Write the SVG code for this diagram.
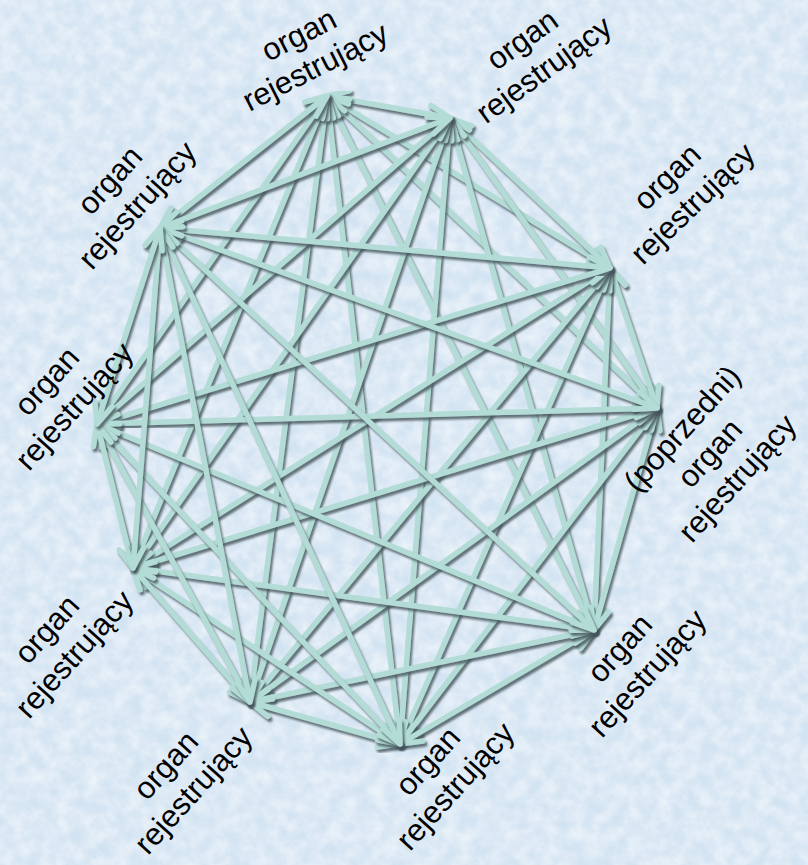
<svg xmlns="http://www.w3.org/2000/svg" width="808" height="865" viewBox="0 0 808 865">
<defs>
<style>
.e{stroke:#b3dcd6;stroke-width:5.5;fill:none;marker-start:url(#ah);marker-end:url(#ah);filter:url(#sh)}
.t{font-family:"Liberation Sans",Arial,sans-serif;font-size:31px;fill:#000;text-anchor:middle}
</style>
<filter id="sh" x="-20%" y="-20%" width="140%" height="140%">
<feDropShadow dx="2" dy="3" stdDeviation="1.2" flood-color="#45525a" flood-opacity="0.8"/>
</filter>
<filter id="tex" x="0" y="0" width="100%" height="100%">
<feTurbulence type="fractalNoise" baseFrequency="0.07" numOctaves="4" seed="7"/>
<feColorMatrix type="matrix" values="0 0 0 0 1  0 0 0 0 1  0 0 0 0 1  0.9 0 0 0 -0.22"/>
</filter>
<marker id="ah" markerUnits="userSpaceOnUse" viewBox="-26 -14 30 28" refX="0" refY="0" markerWidth="30" markerHeight="28" orient="auto-start-reverse" overflow="visible">
<path d="M-21,-9 L0,0 L-21,9" fill="none" stroke="#b3dcd6" stroke-width="5.5" stroke-linecap="round" stroke-linejoin="round"/>
</marker>
</defs>
<rect width="808" height="865" fill="#d2e3f2"/>
<rect width="808" height="865" filter="url(#tex)"/>
<g id="connectors">
<line class="e" x1="327" y1="96" x2="450" y2="118"/>
<line class="e" x1="327" y1="96" x2="610" y2="268"/>
<line class="e" x1="327" y1="96" x2="657" y2="408"/>
<line class="e" x1="327" y1="96" x2="594" y2="630"/>
<line class="e" x1="327" y1="96" x2="400" y2="744"/>
<line class="e" x1="327" y1="96" x2="250" y2="702"/>
<line class="e" x1="327" y1="96" x2="133" y2="568"/>
<line class="e" x1="327" y1="96" x2="97" y2="424"/>
<line class="e" x1="327" y1="96" x2="160" y2="228"/>
<line class="e" x1="450" y1="118" x2="610" y2="268"/>
<line class="e" x1="450" y1="118" x2="657" y2="408"/>
<line class="e" x1="450" y1="118" x2="594" y2="630"/>
<line class="e" x1="450" y1="118" x2="400" y2="744"/>
<line class="e" x1="450" y1="118" x2="250" y2="702"/>
<line class="e" x1="450" y1="118" x2="133" y2="568"/>
<line class="e" x1="450" y1="118" x2="97" y2="424"/>
<line class="e" x1="450" y1="118" x2="160" y2="228"/>
<line class="e" x1="610" y1="268" x2="657" y2="408"/>
<line class="e" x1="610" y1="268" x2="594" y2="630"/>
<line class="e" x1="610" y1="268" x2="400" y2="744"/>
<line class="e" x1="610" y1="268" x2="250" y2="702"/>
<line class="e" x1="610" y1="268" x2="133" y2="568"/>
<line class="e" x1="610" y1="268" x2="97" y2="424"/>
<line class="e" x1="610" y1="268" x2="160" y2="228"/>
<line class="e" x1="657" y1="408" x2="594" y2="630"/>
<line class="e" x1="657" y1="408" x2="400" y2="744"/>
<line class="e" x1="657" y1="408" x2="250" y2="702"/>
<line class="e" x1="657" y1="408" x2="133" y2="568"/>
<line class="e" x1="657" y1="408" x2="97" y2="424"/>
<line class="e" x1="657" y1="408" x2="160" y2="228"/>
<line class="e" x1="594" y1="630" x2="400" y2="744"/>
<line class="e" x1="594" y1="630" x2="250" y2="702"/>
<line class="e" x1="594" y1="630" x2="133" y2="568"/>
<line class="e" x1="594" y1="630" x2="97" y2="424"/>
<line class="e" x1="594" y1="630" x2="160" y2="228"/>
<line class="e" x1="400" y1="744" x2="250" y2="702"/>
<line class="e" x1="400" y1="744" x2="133" y2="568"/>
<line class="e" x1="400" y1="744" x2="97" y2="424"/>
<line class="e" x1="400" y1="744" x2="160" y2="228"/>
<line class="e" x1="250" y1="702" x2="133" y2="568"/>
<line class="e" x1="250" y1="702" x2="97" y2="424"/>
<line class="e" x1="250" y1="702" x2="160" y2="228"/>
<line class="e" x1="133" y1="568" x2="97" y2="424"/>
<line class="e" x1="133" y1="568" x2="160" y2="228"/>
<line class="e" x1="97" y1="424" x2="160" y2="228"/>
</g>
<g id="node1" transform="translate(320,76) rotate(-27)"><text class="t" y="-36">organ</text><text class="t">rejestrujący</text></g>
<g id="node2" transform="translate(550,78) rotate(-36)"><text class="t" y="-37">organ</text><text class="t">rejestrujący</text></g>
<g id="node3" transform="translate(700,211) rotate(-44)"><text class="t" y="-37">organ</text><text class="t">rejestrujący</text></g>
<g id="node4" transform="translate(745,485) rotate(-48)"><text class="t" y="-74">(poprzedni)</text><text class="t" y="-37">organ</text><text class="t">rejestrujący</text></g>
<g id="node5" transform="translate(655,680) rotate(-48)"><text class="t" y="-37">organ</text><text class="t">rejestrujący</text></g>
<g id="node6" transform="translate(463,793) rotate(-48)"><text class="t" y="-37">organ</text><text class="t">rejestrujący</text></g>
<g id="node7" transform="translate(201,797) rotate(-48)"><text class="t" y="-37">organ</text><text class="t">rejestrujący</text></g>
<g id="node8" transform="translate(82,661) rotate(-48)"><text class="t" y="-37">organ</text><text class="t">rejestrujący</text></g>
<g id="node9" transform="translate(82,413) rotate(-48)"><text class="t" y="-37">organ</text><text class="t">rejestrujący</text></g>
<g id="node10" transform="translate(145,212) rotate(-48)"><text class="t" y="-37">organ</text><text class="t">rejestrujący</text></g>
</svg>
